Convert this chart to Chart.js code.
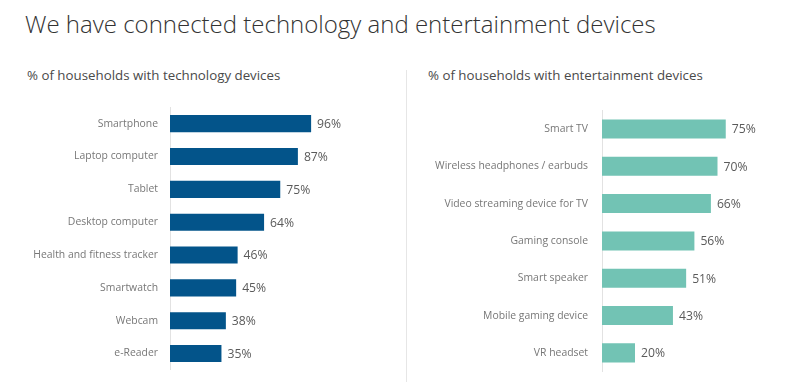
<!DOCTYPE html>
<html>
<head>
<meta charset="utf-8">
<script src="https://cdn.jsdelivr.net/npm/chart.js@4"></script>
<style>
  html, body { margin:0; padding:0; background:#fff; }
  body { width:800px; height:387px; position:relative; overflow:hidden; font-family:"Open Sans", sans-serif; }
  #title { position:absolute; left:25px; top:7px; font-size:24px; font-weight:300; color:#333; white-space:nowrap; }
  .sub { position:absolute; top:66px; font-size:13.3px; color:#4a4a4a; white-space:nowrap; }
  #divider { position:absolute; left:406px; top:70px; width:1px; height:312px; background:#e6e6e6; }
  .box { position:absolute; width:400px; }
</style>
</head>
<body>
<div id="title">We have connected technology and entertainment devices</div>
<div class="sub" style="left:27px">% of households with technology devices</div>
<div class="sub" style="left:428px">% of households with entertainment devices</div>
<div id="divider"></div>
<div class="box" style="left:0;top:88.9px;height:299.2px"><canvas id="c1"></canvas></div>
<div class="box" style="left:400px;top:89.6px;height:301.8px"><canvas id="c2"></canvas></div>
<script>
const techCategories = ["Smartphone","Laptop computer","Tablet","Desktop computer","Health and fitness tracker","Smartwatch","Webcam","e-Reader"];
const techValues = [96,87,75,64,46,45,38,35];
const entCategories = ["Smart TV","Wireless headphones / earbuds","Video streaming device for TV","Gaming console","Smart speaker","Mobile gaming device","VR headset"];
const entValues = [75,70,66,56,51,43,20];

const valueLabels = {
  id:'valueLabels',
  afterDatasetsDraw(chart){
    const ctx = chart.ctx;
    const meta = chart.getDatasetMeta(0);
    ctx.save();
    ctx.font = '12.2px "Open Sans"';
    ctx.fillStyle = '#5a5a5a';
    ctx.textBaseline = 'middle';
    ctx.textAlign = 'left';
    meta.data.forEach((bar,i)=>{
      ctx.fillText(chart.data.datasets[0].data[i] + '%', bar.x + 6, bar.y + 1);
    });
    ctx.restore();
  }
};

function makeChart(id, cats, vals, color, axisW, padR, tickPad, barPct){
  return new Chart(document.getElementById(id), {
    type:'bar',
    data:{ labels:cats, datasets:[{ data:vals, backgroundColor:color, barPercentage:barPct, categoryPercentage:1 }]},
    options:{
      indexAxis:'y',
      responsive:true, maintainAspectRatio:false, animation:false,
      layout:{ padding:{ left:0, right:padR, top:0, bottom:0 } },
      plugins:{ legend:{display:false}, tooltip:{enabled:false} },
      scales:{
        x:{ display:false, min:0, max:100 },
        y:{
          grid:{ display:false, drawTicks:false },
          border:{ display:true, color:'#e2e2e2', width:1 },
          ticks:{ padding:tickPad, color:'#777', font:{ family:'"Open Sans"', size:10.4 } },
          afterFit(scale){ scale.width = axisW; }
        }
      }
    },
    plugins:[valueLabels]
  });
}
makeChart('c1', techCategories, techValues, '#03548A', 170, 83, 12, 0.52);
makeChart('c2', entCategories, entValues, '#72C3B4', 202, 33, 14, 0.51);
</script>
</body>
</html>
